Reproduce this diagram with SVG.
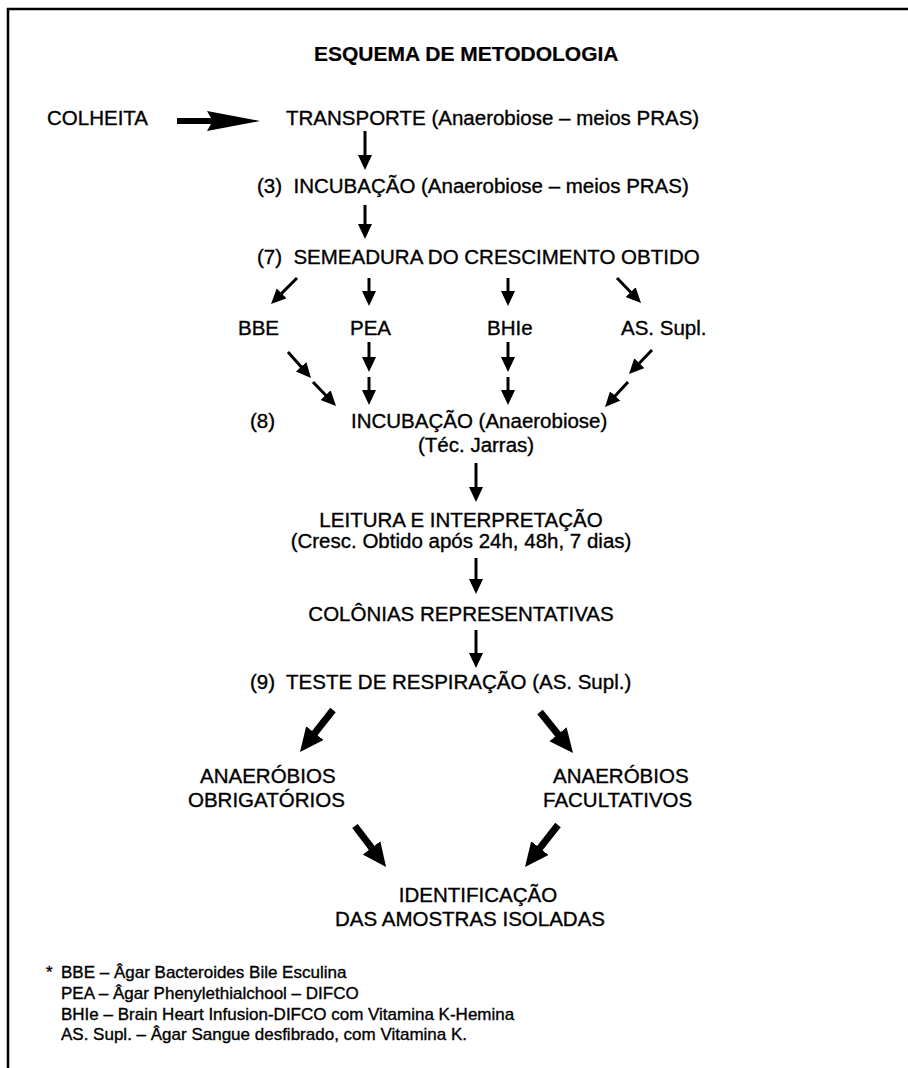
<svg xmlns="http://www.w3.org/2000/svg" width="908" height="1068" viewBox="0 0 908 1068">
<style>
text{font-family:"Liberation Sans",Arial,sans-serif;fill:#000;white-space:pre;stroke:#000;stroke-width:0.35}
.t{font-size:20.5px}
.m{font-size:20.5px;text-anchor:middle}
.b{font-size:21px;font-weight:bold;stroke-width:0.2}
.f{font-size:17px}
.s{stroke:#000;stroke-width:3;fill:none;marker-end:url(#hs)}
.g{stroke:#000;stroke-width:7;fill:none;marker-end:url(#hb)}
</style>
<defs>
<marker id="hs" markerUnits="userSpaceOnUse" markerWidth="16" markerHeight="15" refX="5" refY="7" orient="auto" viewBox="0 0 16 15">
<path d="M0,0 L15,7 L0,14 z" fill="#000"/>
</marker>
<marker id="hb" markerUnits="userSpaceOnUse" markerWidth="25" markerHeight="24" refX="8" refY="11" orient="auto" viewBox="0 0 25 24">
<path d="M0,0 L24,11 L0,22 z" fill="#000"/>
</marker>
</defs>
<path d="M8,1068 V9 H908" fill="none" stroke="#000" stroke-width="2.5"/>
<text class="b" x="314" y="61">ESQUEMA DE METODOLOGIA</text>

<g id="colheita"><text class="t" x="47" y="125">COLHEITA</text></g>
<g id="transporte"><text class="t" x="286" y="125">TRANSPORTE (Anaerobiose – meios PRAS)</text></g>
<g id="incubacao3"><text class="t" x="257" y="193" xml:space="preserve">(3)  INCUBAÇÃO (Anaerobiose – meios PRAS)</text></g>
<g id="semeadura"><text class="t" x="257" y="264" xml:space="preserve">(7)  SEMEADURA DO CRESCIMENTO OBTIDO</text></g>
<g id="bbe"><text class="t" x="238" y="335">BBE</text></g>
<g id="pea"><text class="t" x="350" y="335">PEA</text></g>
<g id="bhie"><text class="t" x="487" y="335">BHIe</text></g>
<g id="assupl"><text class="t" x="621" y="335">AS. Supl.</text></g>
<g id="incubacao8">
<text class="t" x="250" y="428">(8)</text>
<text class="t" x="351" y="428">INCUBAÇÃO (Anaerobiose)</text>
<text class="t" x="418" y="452">(Téc. Jarras)</text>
</g>
<g id="leitura">
<text class="m" x="461" y="527">LEITURA E INTERPRETAÇÃO</text>
<text class="m" x="461" y="548">(Cresc. Obtido após 24h, 48h, 7 dias)</text>
</g>
<g id="colonias"><text class="m" x="461" y="621">COLÔNIAS REPRESENTATIVAS</text></g>
<g id="teste"><text class="t" x="250" y="689" xml:space="preserve">(9)  TESTE DE RESPIRAÇÃO (AS. Supl.)</text></g>
<g id="obrigatorios">
<text class="t" x="200" y="783">ANAERÓBIOS</text>
<text class="t" x="188" y="807">OBRIGATÓRIOS</text>
</g>
<g id="facultativos">
<text class="t" x="553" y="783">ANAERÓBIOS</text>
<text class="t" x="543" y="807">FACULTATIVOS</text>
</g>
<g id="identificacao">
<text class="m" x="478" y="902">IDENTIFICAÇÃO</text>
<text class="m" x="470" y="926">DAS AMOSTRAS ISOLADAS</text>
</g>
<g id="notas">
<text class="f" x="46" y="978">*</text>
<text class="f" x="61" y="978">BBE – Âgar Bacteroides Bile Esculina</text>
<text class="f" x="61" y="999">PEA – Âgar Phenylethialchool – DIFCO</text>
<text class="f" x="61" y="1020">BHIe – Brain Heart Infusion-DIFCO com Vitamina K-Hemina</text>
<text class="f" x="61" y="1040">AS. Supl. – Âgar Sangue desfibrado, com Vitamina K.</text>
</g>

<g id="connectors">
<polygon points="177,118 211,118 207,111 260,121 207,131 211,124 177,124" fill="#000"/>
<line class="s" x1="365" y1="131" x2="365" y2="160"/>
<line class="s" x1="365" y1="205" x2="365" y2="229"/>
<line class="s" x1="297" y1="278" x2="278.1" y2="296.9"/>
<line class="s" x1="369" y1="278" x2="369" y2="296"/>
<line class="s" x1="508" y1="278" x2="508" y2="296"/>
<line class="s" x1="617" y1="278" x2="634.1" y2="295.8"/>
<line class="s" x1="288" y1="352" x2="304.4" y2="370.5"/>
<line class="s" x1="313" y1="382" x2="329.1" y2="398.8"/>
<line class="s" x1="369" y1="342" x2="369" y2="362"/>
<line class="s" x1="369" y1="377" x2="369" y2="395"/>
<line class="s" x1="508" y1="342" x2="508" y2="362"/>
<line class="s" x1="508" y1="377" x2="508" y2="395"/>
<line class="s" x1="652" y1="350" x2="635.9" y2="366.8"/>
<line class="s" x1="628" y1="382" x2="611.8" y2="399.6"/>
<line class="s" x1="476" y1="463" x2="476" y2="492"/>
<line class="s" x1="476" y1="558" x2="476" y2="584"/>
<line class="s" x1="476" y1="630" x2="476" y2="658"/>
<line class="g" x1="333" y1="710" x2="309.9" y2="739.4"/>
<line class="g" x1="540" y1="712" x2="563" y2="740.5"/>
<line class="g" x1="355" y1="826" x2="376.4" y2="854.2"/>
<line class="g" x1="558" y1="825" x2="534.9" y2="854.4"/>
</g>
</svg>
